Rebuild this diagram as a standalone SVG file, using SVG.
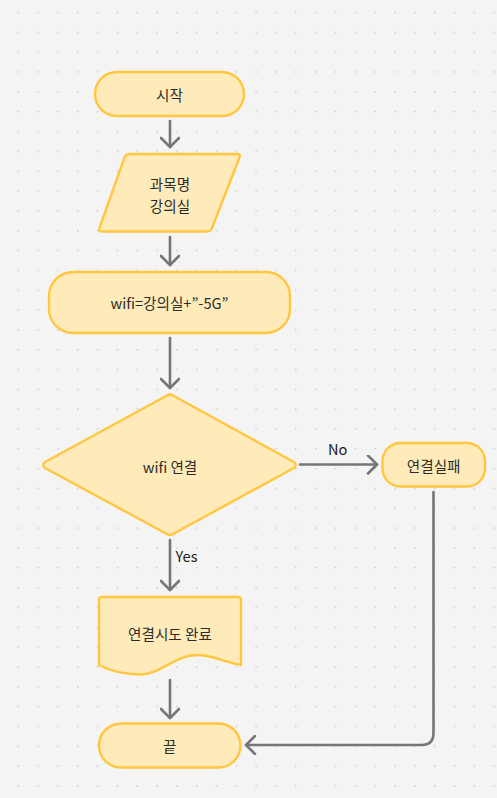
<svg xmlns="http://www.w3.org/2000/svg" width="497" height="798" viewBox="0 0 497 798">
<defs>
<pattern id="dots" x="17.5" y="11.8" width="19.83" height="19.83" patternUnits="userSpaceOnUse">
<rect x="0" y="0" width="1.4" height="1.4" fill="#c4c4c4"/>
</pattern>
<marker id="arr" viewBox="0 0 20 20" refX="17" refY="10" markerWidth="20" markerHeight="20" markerUnits="userSpaceOnUse" orient="auto">
<path d="M8,1 L17,10 L8,19" fill="none" stroke="#767676" stroke-width="2.6" stroke-linecap="round" stroke-linejoin="round"/>
</marker>
</defs>
<style>
.node{fill:#FFEBBA;stroke:#FFC63F;stroke-width:2.4;stroke-linejoin:round}
.t{font-family:"Noto Sans CJK KR","Liberation Sans",sans-serif;font-size:14.6px;fill:#2b2b2b;text-anchor:middle;dominant-baseline:central}
.c{fill:none;stroke:#767676;stroke-width:2.6;stroke-linecap:round}
.lbl{font-family:"Noto Sans CJK KR","Liberation Sans",sans-serif;font-size:14.6px;fill:#222;dominant-baseline:central}
</style>
<rect width="497" height="798" fill="#F4F4F4"/>
<rect width="497" height="798" fill="url(#dots)"/>
<g id="connectors">
<path class="c" d="M170,121 L170,147" marker-end="url(#arr)"/>
<path class="c" d="M170,237 L170,265" marker-end="url(#arr)"/>
<path class="c" d="M170,338 L170,388" marker-end="url(#arr)"/>
<path class="c" d="M300,464.5 L377,464.5" marker-end="url(#arr)"/>
<path class="c" d="M170,540 L170,590" marker-end="url(#arr)"/>
<path class="c" d="M170,680 L170,718" marker-end="url(#arr)"/>
<path class="c" d="M433.5,492 L433.5,733 Q433.5,745 421.5,745 L246,745" marker-end="url(#arr)"/>
<text class="lbl" x="328" y="448">No</text>
<text class="lbl" x="175.5" y="555">Yes</text>
</g>
<g id="start">
<rect class="node" x="95" y="72" width="149" height="44" rx="22"/>
<text class="t" x="169.5" y="94">시작</text>
</g>
<g id="input">
<path class="node" d="M129,154 L237,154 Q241,154 239.5,157.5 L212,228 Q211,231.5 207,231.5 L102,231.5 Q98,231.5 99.5,228 L124.5,157.5 Q126,154 129,154 Z"/>
<text class="t" x="170" y="183">과목명</text>
<text class="t" x="170" y="205">강의실</text>
</g>
<g id="wifi-assign">
<rect class="node" x="49" y="272" width="241" height="61" rx="24"/>
<text class="t" x="169.5" y="302">wifi=강의실+”-5G”</text>
</g>
<g id="decision">
<path class="node" d="M173,395.5 L294,462 Q297.5,465 294,468 L173,534 Q170,536 167,534 L45,468 Q41.5,465 45,462 L167,395.5 Q170,393.5 173,395.5 Z"/>
<text class="t" x="170" y="466">wifi 연결</text>
</g>
<g id="fail">
<rect class="node" x="382.5" y="443" width="102.5" height="43.5" rx="18"/>
<text class="t" x="433.7" y="465">연결실패</text>
</g>
<g id="done">
<path class="node" d="M102,597 L238,597 Q241,597 241,600 L241,665 C225,662 212,655 197,655 C175,655 160,675 140,674.5 C122,674 108,670 99,665 L99,600 Q99,597 102,597 Z"/>
<text class="t" x="170" y="633">연결시도 완료</text>
</g>
<g id="end">
<rect class="node" x="99" y="723.5" width="141.5" height="44" rx="22"/>
<text class="t" x="169.7" y="745.5">끝</text>
</g>
</svg>
